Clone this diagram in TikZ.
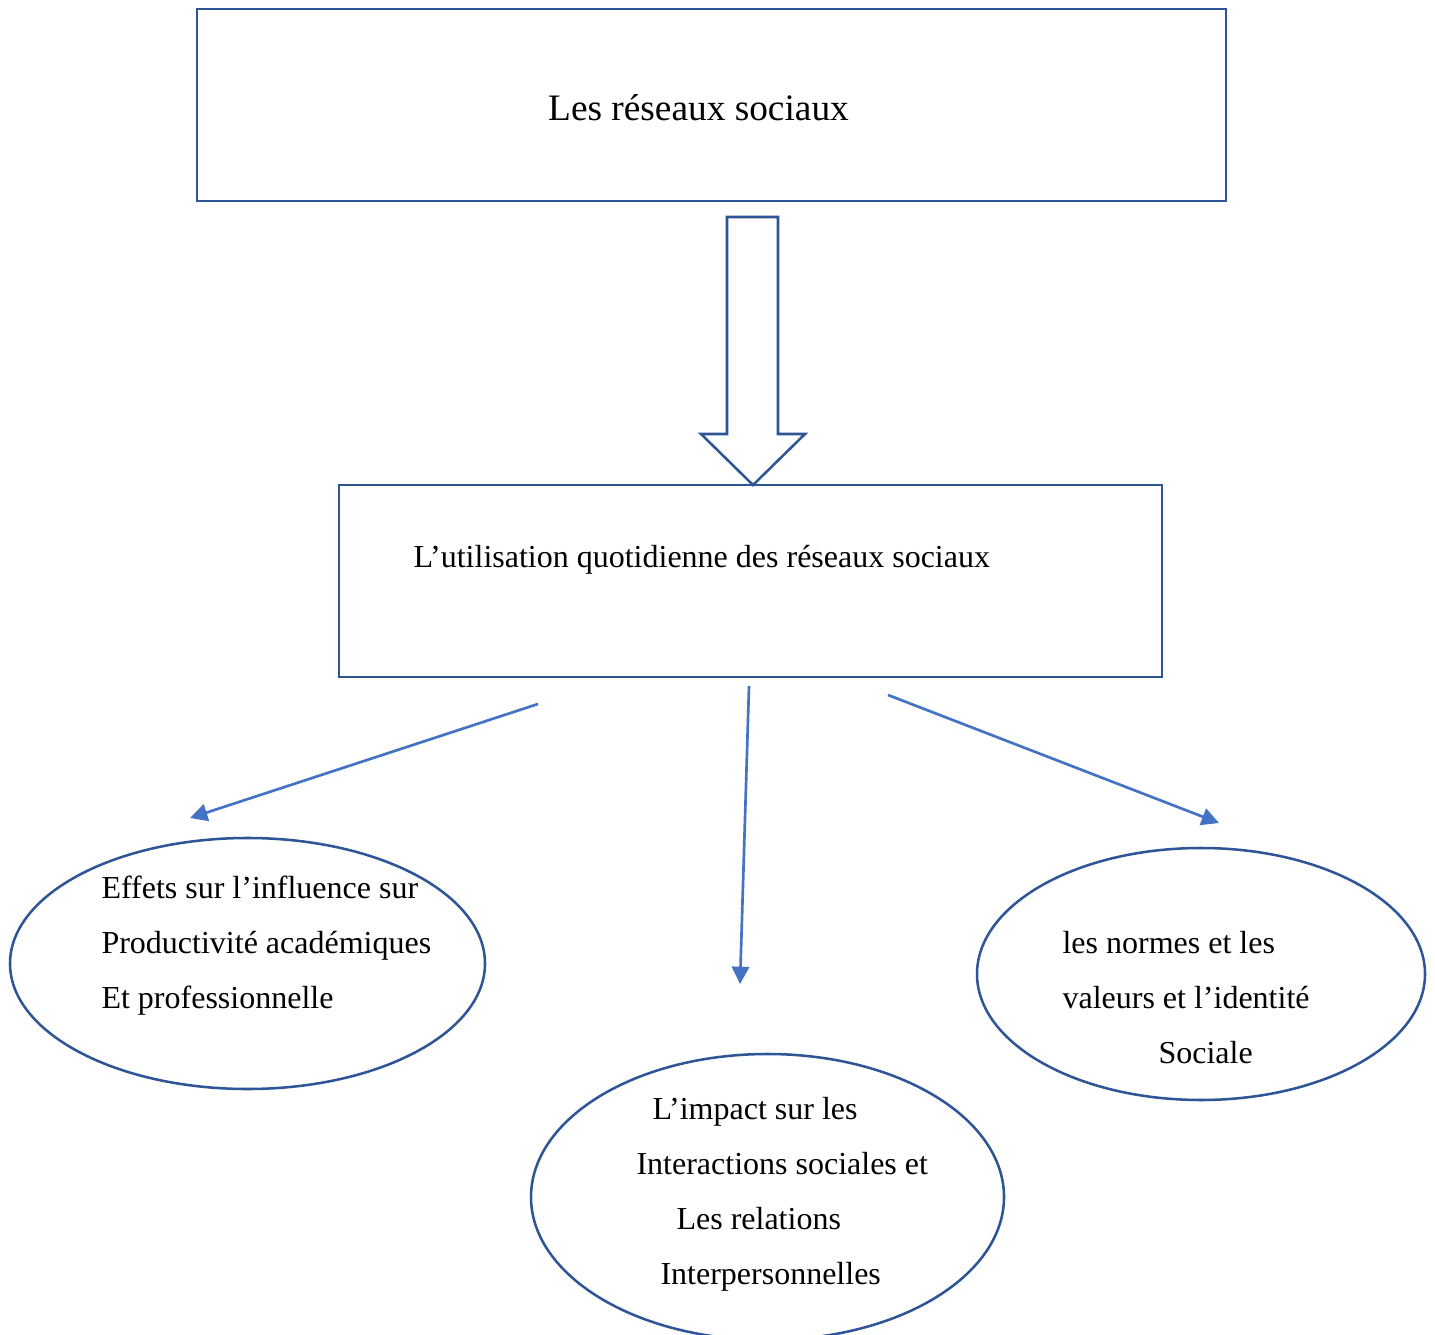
\documentclass[tikz,border=0pt]{standalone}
\usepackage{fontspec}
\setmainfont{Liberation Serif}
\usetikzlibrary{arrows.meta,shapes.geometric}
\definecolor{boxblue}{HTML}{2F5597}
\definecolor{arrblue}{HTML}{4472C4}
\newcommand\pxu{0.375pt}
\tikzset{
  frame/.style={draw=boxblue,line width=0.95pt,rectangle,inner sep=0pt},
  oval/.style={draw=boxblue,line width=0.95pt,ellipse,inner sep=0pt},
  txt/.style={anchor=base west,inner sep=0pt,font=\fontsize{12}{14}\selectfont},
  link/.style={draw=arrblue,line width=1pt,-{Triangle[length=6.5pt,width=6.5pt]}},
}
\begin{document}
\begin{tikzpicture}[x=0.375pt,y=-0.375pt]
\clip (0,0) rectangle (1435,1335);
\fill[white] (0,0) rectangle (1435,1335);
% top box
\node[frame,minimum width=1029*\pxu,minimum height=192*\pxu] (top) at (711.5,105) {};
\node[anchor=base,inner sep=0pt,font=\fontsize{14}{16}\selectfont] (toptxt) at (698.5,121) {Les réseaux sociaux};
% middle box
\node[frame,minimum width=823*\pxu,minimum height=192*\pxu] (mid) at (750.5,581) {};
\node[txt] (midtxt) at (413,568) {L’utilisation quotidienne des réseaux sociaux};
% hollow block arrow
\coordinate (ha1) at (727,217);
\coordinate (ha2) at (778,217);
\coordinate (htip) at (753,485);
\draw[boxblue,line width=0.95pt,fill=white,line join=miter]
  (ha1) -- (ha2) -- (778,434) -- (805,434) -- (htip) -- (701,434) -- (727,434) -- cycle;
% ellipses
\node[oval,minimum width=475*\pxu,minimum height=251*\pxu] (left) at (247.5,963.5) {};
\node[oval,minimum width=473*\pxu,minimum height=286*\pxu] (centre) at (767.5,1197) {};
\node[oval,minimum width=448*\pxu,minimum height=252*\pxu] (right) at (1201,974) {};
% left text
\node[txt] (l1) at (101,898) {Effets sur l’influence sur};
\node[txt] (l2) at (101,953) {Productivité académiques};
\node[txt] (l3) at (101,1008) {Et professionnelle};
% middle text
\node[txt] (m1) at (652,1119) {L’impact sur les};
\node[txt] (m2) at (636,1174) {Interactions sociales et};
\node[txt] (m3) at (676,1229) {Les relations};
\node[txt] (m4) at (660,1284) {Interpersonnelles};
% right text
\node[txt] (r1) at (1062,953) {les normes et les};
\node[txt] (r2) at (1062,1008) {valeurs et l’identité};
\node[txt] (r3) at (1158,1063) {Sociale};
% arrows
\coordinate (a1s) at (538,704);
\coordinate (a1e) at (190,818);
\coordinate (a2s) at (749,686);
\coordinate (a2e) at (740,984);
\coordinate (a3s) at (888,695);
\coordinate (a3e) at (1219,823);
\draw[link] (a1s) -- (a1e);
\draw[link] (a2s) -- (a2e);
\draw[link] (a3s) -- (a3e);
\end{tikzpicture}
\end{document}
